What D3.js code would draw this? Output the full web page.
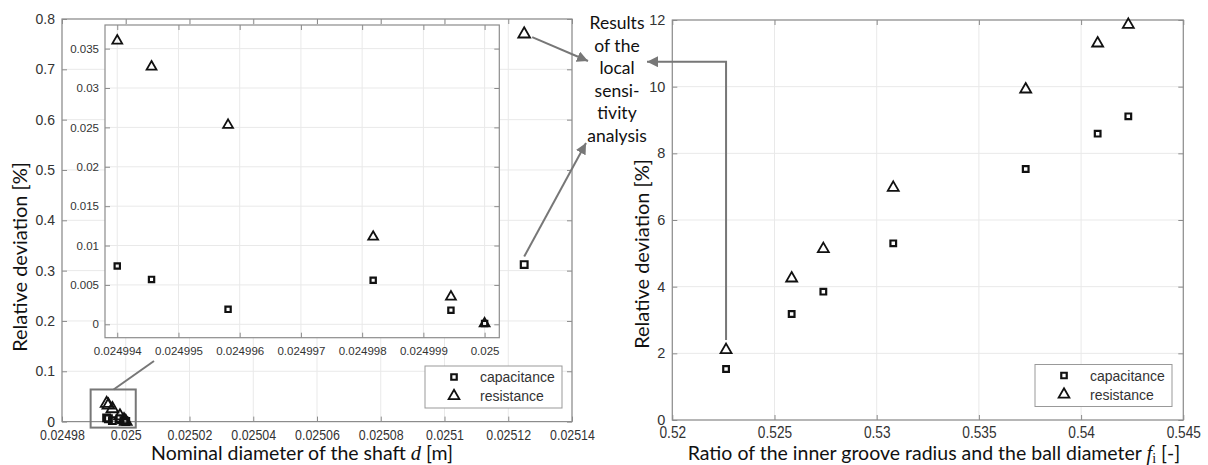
<!DOCTYPE html>
<html>
<head>
<meta charset="utf-8">
<script src="https://cdn.jsdelivr.net/npm/d3@7"></script>
<style>
  body { margin: 0; background: #fff; }
  text { font-family: "Liberation Sans", Arial, sans-serif; fill: #333; }
  .lbl { font-family: Lato, "Open Sans", sans-serif; fill: #111; }
</style>
</head>
<body>
<div id="chart"></div>
<script>
// ---- data ----
const diamX   = [0.024994, 0.02499456, 0.02499581, 0.02499818, 0.02499945, 0.025, 0.025125];
const diamCap = [0.0074, 0.0057, 0.0019, 0.0056, 0.0018, 0.0001, 0.312];
const diamRes = [0.0360, 0.0327, 0.0253, 0.0111, 0.0035, 0.0001, 0.770];

const fiX   = [0.52263, 0.52584, 0.52739, 0.53081, 0.53729, 0.54081, 0.54231];
const fiCap = [1.53, 3.18, 3.85, 5.30, 7.53, 8.59, 9.11];
const fiRes = [2.10, 4.25, 5.13, 6.97, 9.92, 11.30, 11.86];

const legendLabels = ["capacitance", "resistance"];
const noteLines = ["Results", "of the", "local", "sensi-", "tivity", "analysis"];

const W = 1208, H = 465;
const frameCol = "#8c8c8c", gridCol = "#e9e9e9", arrowCol = "#777";

const svg = d3.select("#chart").append("svg")
    .attr("width", W).attr("height", H);

svg.append("defs").append("marker")
    .attr("id", "head")
    .attr("markerUnits", "userSpaceOnUse")
    .attr("viewBox", "0 0 10 10")
    .attr("refX", 10).attr("refY", 5)
    .attr("markerWidth", 11).attr("markerHeight", 11)
    .attr("orient", "auto")
    .append("path").attr("d", "M0,0L10,5L0,10Z").attr("fill", arrowCol);

// draws frame, grid, inward ticks on all sides and tick labels
function frame(g, x, y, opt) {
    const [x0, x1] = x.range(), [y0, y1] = y.range();
    const xt = x.ticks(opt.nx), yt = y.ticks(opt.ny);
    g.append("rect").attr("x", x0).attr("y", y1)
        .attr("width", x1 - x0).attr("height", y0 - y1)
        .attr("fill", "#fff");
    g.selectAll(null).data(xt).enter().append("line")
        .attr("x1", d => x(d)).attr("x2", d => x(d))
        .attr("y1", y1).attr("y2", y0)
        .attr("stroke", gridCol);
    g.selectAll(null).data(yt).enter().append("line")
        .attr("x1", x0).attr("x2", x1)
        .attr("y1", d => y(d)).attr("y2", d => y(d))
        .attr("stroke", gridCol);

    [[d3.axisBottom(x), y0, true], [d3.axisTop(x), y1, false]].forEach(([ax, pos, lab]) => {
        const a = g.append("g").attr("transform", "translate(0," + pos + ")")
            .call(ax.tickValues(xt).tickSizeInner(-5).tickSizeOuter(0)
                .tickPadding(opt.xPad)
                .tickFormat(lab ? opt.xFmt : ""));
        a.select(".domain").remove();
        a.selectAll("line").attr("stroke", frameCol);
        a.selectAll("text").attr("font-size", opt.xFs).attr("fill", "#333")
            .attr("font-family", "Liberation Sans, Arial, sans-serif")
            .attr("transform", "scale(" + opt.xSq + ",1)");
    });
    [[d3.axisLeft(y), x0, true], [d3.axisRight(y), x1, false]].forEach(([ax, pos, lab]) => {
        const a = g.append("g").attr("transform", "translate(" + pos + ",0)")
            .call(ax.tickValues(yt).tickSizeInner(-5).tickSizeOuter(0)
                .tickPadding(opt.yPad)
                .tickFormat(lab ? opt.yFmt : ""));
        a.select(".domain").remove();
        a.selectAll("line").attr("stroke", frameCol);
        a.selectAll("text").attr("font-size", opt.yFs).attr("fill", "#333")
            .attr("font-family", "Liberation Sans, Arial, sans-serif");
    });
    g.append("rect").attr("x", x0).attr("y", y1)
        .attr("width", x1 - x0).attr("height", y0 - y1)
        .attr("fill", "none").attr("stroke", frameCol).attr("stroke-width", 1.2);
}

function markers(g, xs, ys, x, y, type, size, keep) {
    const sym = d3.symbol().type(type === "sq" ? d3.symbolSquare : d3.symbolTriangle).size(size);
    const pts = xs.map((v, i) => [v, ys[i]]).filter(keep || (() => true));
    g.selectAll(null).data(pts).enter().append("path")
        .attr("d", sym)
        .attr("transform", d => "translate(" + x(d[0]) + "," + y(d[1]) + ")")
        .attr("fill", "none").attr("stroke", "#111")
        .attr("stroke-width", type === "sq" ? 2.2 : 1.8);
}

function legend(g, bx, by) {
    g.append("rect").attr("x", bx).attr("y", by).attr("width", 137).attr("height", 42)
        .attr("fill", "#fff").attr("stroke", "#999");
    const sq = d3.symbol().type(d3.symbolSquare).size(30);
    const tr = d3.symbol().type(d3.symbolTriangle).size(50);
    legendLabels.forEach((t, i) => {
        const cy = by + 11 + i * 19;
        g.append("path").attr("d", i === 0 ? sq : tr)
            .attr("transform", "translate(" + (bx + 29) + "," + cy + ")")
            .attr("fill", "none").attr("stroke", "#111").attr("stroke-width", i === 0 ? 2.2 : 1.8);
        g.append("text").attr("x", bx + 55).attr("y", cy + 5)
            .attr("font-size", 14).attr("fill", "#333").text(t);
    });
}

// ---------- left chart ----------
const xD = d3.scaleLinear().domain([0.02498, 0.02514]).range([62, 572]);
const yD = d3.scaleLinear().domain([0, 0.8]).range([421.6, 19]);
const gL = svg.append("g");
frame(gL, xD, yD, {
    nx: 8, ny: 8, xPad: 7, yPad: 7, xFs: 15.5, yFs: 14, xSq: 0.8,
    xFmt: d => +d.toFixed(5), yFmt: d => +d.toFixed(3)
});
markers(gL, diamX, diamCap, xD, yD, "sq", 45);
markers(gL, diamX, diamRes, xD, yD, "tr", 60);

// zoom box around the cluster near the nominal diameter
const bx0 = xD(0.024994) - 16, bx1 = xD(0.025) + 10;
const by0 = yD(0.036) - 14, by1 = yD(0) + 6;
gL.append("rect").attr("x", bx0).attr("y", by0)
    .attr("width", bx1 - bx0).attr("height", by1 - by0)
    .attr("fill", "none").attr("stroke", arrowCol).attr("stroke-width", 2);

// inset
const xI = d3.scaleLinear().domain([0.0249938, 0.02500024]).range([105, 499.3]);
const yI = d3.scaleLinear().domain([-0.0017, 0.038]).range([337.7, 25]);
const gI = svg.append("g");
frame(gI, xI, yI, {
    nx: 6, ny: 8, xPad: 9, yPad: 6, xFs: 11.5, yFs: 11.5, xSq: 1,
    xFmt: d => +d.toFixed(6), yFmt: d => +d.toFixed(3)
});
const inInset = d => d[0] <= 0.025;
markers(gI, diamX, diamCap, xI, yI, "sq", 28, inInset);
markers(gI, diamX, diamRes, xI, yI, "tr", 42, inInset);

gL.append("line").attr("x1", bx0 + 23).attr("y1", by0)
    .attr("x2", 154).attr("y2", 361)
    .attr("stroke", arrowCol).attr("stroke-width", 2);

legend(gL, 425, 366);

svg.append("text").attr("class", "lbl")
    .attr("transform", "translate(27,257) rotate(-90)")
    .attr("text-anchor", "middle").attr("font-size", 20)
    .text("Relative deviation [%]");
const xl = svg.append("text").attr("class", "lbl")
    .attr("x", 302).attr("y", 460).attr("text-anchor", "middle").attr("font-size", 19.5);
xl.append("tspan").text("Nominal diameter of the shaft ");
xl.append("tspan").attr("font-family", "Liberation Serif, serif").attr("font-style", "italic")
    .attr("font-size", 20.5).text("d");
xl.append("tspan").text(" [m]");

// ---------- right chart ----------
const xF = d3.scaleLinear().domain([0.52, 0.545]).range([672.3, 1183.3]);
const yF = d3.scaleLinear().domain([0, 12]).range([420, 20]);
const gR = svg.append("g");
frame(gR, xF, yF, {
    nx: 5, ny: 6, xPad: 6, yPad: 7, xFs: 16.5, yFs: 14.5, xSq: 0.83,
    xFmt: d => +d.toFixed(3), yFmt: d => d
});
markers(gR, fiX, fiCap, xF, yF, "sq", 32);
markers(gR, fiX, fiRes, xF, yF, "tr", 52);
legend(gR, 1035, 364.5);

svg.append("text").attr("class", "lbl")
    .attr("transform", "translate(649,254) rotate(-90)")
    .attr("text-anchor", "middle").attr("font-size", 20)
    .text("Relative deviation [%]");
const xr = svg.append("text").attr("class", "lbl")
    .attr("x", 934).attr("y", 460).attr("text-anchor", "middle").attr("font-size", 19.5);
xr.append("tspan").text("Ratio of the inner groove radius and the ball diameter ");
xr.append("tspan").attr("font-family", "Liberation Serif, serif").attr("font-style", "italic")
    .attr("font-size", 20.5).text("f");
xr.append("tspan").attr("font-family", "Liberation Serif, serif").attr("font-size", 14)
    .attr("dy", 3).text("i");
xr.append("tspan").attr("dy", -3).text(" [-]");

// ---------- annotation ----------
const note = svg.append("text").attr("class", "lbl")
    .attr("text-anchor", "middle").attr("font-size", 17.5).attr("fill", "#333");
noteLines.forEach((t, i) => {
    note.append("tspan").attr("x", 617).attr("y", 29 + i * 22.5).text(t);
});

const n = diamX.length - 1;
svg.append("line")
    .attr("x1", xD(diamX[n]) + 8).attr("y1", yD(diamRes[n]) + 3)
    .attr("x2", 588).attr("y2", 61)
    .attr("stroke", arrowCol).attr("stroke-width", 2).attr("marker-end", "url(#head)");
svg.append("line")
    .attr("x1", xD(diamX[n])).attr("y1", yD(diamCap[n]) - 8)
    .attr("x2", 586).attr("y2", 143)
    .attr("stroke", arrowCol).attr("stroke-width", 2).attr("marker-end", "url(#head)");
svg.append("path")
    .attr("d", "M" + xF(fiX[0]) + "," + (yF(fiRes[0]) - 10) +
        "V61.7H647")
    .attr("fill", "none").attr("stroke", arrowCol).attr("stroke-width", 2)
    .attr("marker-end", "url(#head)");
</script>
</body>
</html>
